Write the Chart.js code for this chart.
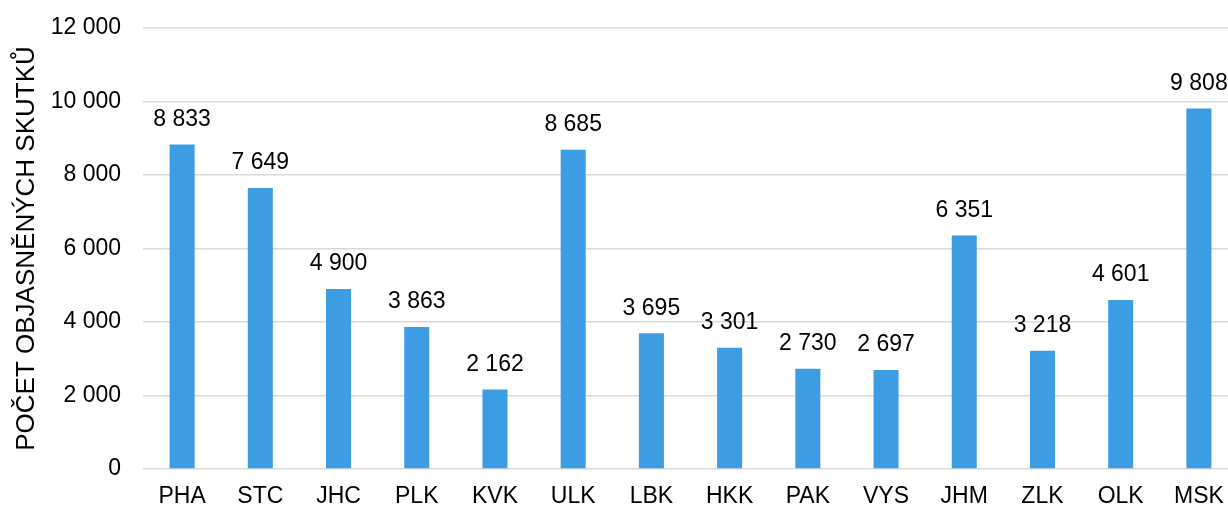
<!DOCTYPE html>
<html>
<head>
<meta charset="utf-8">
<script src="https://cdn.jsdelivr.net/npm/chart.js@4"></script>
<style>
  html, body { margin: 0; padding: 0; background: #fff; overflow: hidden; }
  #wrap { width: 1238px; height: 507px; position: relative; }
</style>
</head>
<body>
<div id="wrap"><canvas id="graf"></canvas></div>
<script>
const kraje = ["PHA", "STC", "JHC", "PLK", "KVK", "ULK", "LBK", "HKK", "PAK", "VYS", "JHM", "ZLK", "OLK", "MSK"];
const skutky = [8833, 7649, 4900, 3863, 2162, 8685, 3695, 3301, 2730, 2697, 6351, 3218, 4601, 9808];
const osaY = [0, 2000, 4000, 6000, 8000, 10000, 12000];

const pismo = "'Liberation Sans', Arial, sans-serif";
const cislo = v => String(v).replace(/\B(?=(\d{3})+(?!\d))/g, " ");

// popisky nad sloupci
const popisky = {
  id: "popisky",
  afterDatasetsDraw(chart) {
    const ctx = chart.ctx;
    const meta = chart.getDatasetMeta(0);
    ctx.save();
    ctx.font = "23px " + pismo;
    ctx.fillStyle = "#000";
    ctx.textAlign = "center";
    ctx.textBaseline = "middle";
    meta.data.forEach((bar, i) => {
      ctx.fillText(cislo(skutky[i]), bar.x, bar.y - 25);
    });
    ctx.restore();
  }
};

new Chart(document.getElementById("graf"), {
  type: "bar",
  data: {
    labels: kraje,
    datasets: [{
      data: skutky,
      backgroundColor: "#3d9de4",
      barPercentage: 0.32,
      categoryPercentage: 1
    }]
  },
  options: {
    responsive: true,
    maintainAspectRatio: false,
    animation: false,
    layout: { padding: { top: 28, right: 0, bottom: 0, left: 0 } },
    plugins: { legend: { display: false }, tooltip: { enabled: false } },
    scales: {
      x: {
        grid: { display: false, drawTicks: false },
        border: { display: false },
        ticks: { color: "#000", font: { family: pismo, size: 23 }, padding: 14 },
        afterFit: s => { s.height = 38; s.paddingLeft = 0; s.paddingRight = 0; }
      },
      y: {
        min: 0,
        max: 12000,
        afterBuildTicks: s => { s.ticks = osaY.map(v => ({ value: v })); },
        grid: { color: "#d9d9d9", lineWidth: 1.5, drawTicks: false },
        border: { display: false },
        ticks: {
          color: "#000",
          font: { family: pismo, size: 23 },
          padding: 22,
          callback: v => cislo(v)
        },
        title: {
          display: true,
          text: "POČET OBJASNĚNÝCH SKUTKŮ",
          color: "#000",
          font: { family: pismo, size: 26 },
          padding: { top: 11, bottom: 0 }
        },
        afterFit: s => { s.width = 143; s.paddingTop = 0; s.paddingBottom = 0; }
      }
    }
  },
  plugins: [popisky]
});
</script>
</body>
</html>
